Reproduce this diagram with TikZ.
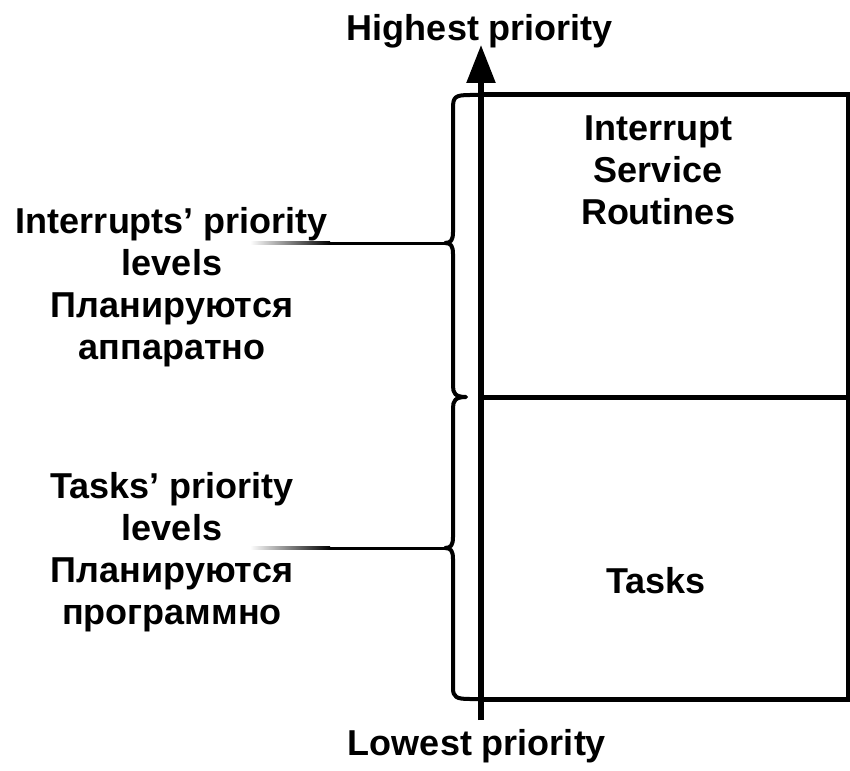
\documentclass[tikz,border=0pt]{standalone}
\usepackage{fontspec}
\setmainfont{Liberation Sans}
\usetikzlibrary{arrows.meta}
\begin{document}
\begin{tikzpicture}[x=1pt,y=-1pt,
  lbl/.style={font=\fontsize{36}{42}\selectfont\bfseries, align=center, inner sep=0pt},
  boxline/.style={line width=5pt},
  bracel/.style={line width=4pt, line join=round},
  axis/.style={line width=5.5pt, -{Triangle[length=38pt,width=28pt]}}]
\useasboundingbox (0,0) rectangle (850,770);
% box
\coordinate (tl) at (481,95);
\coordinate (tr) at (848,95);
\coordinate (ml) at (481,397);
\coordinate (mr) at (848,397);
\coordinate (bl) at (481,699);
\coordinate (br) at (848,699);
\draw[boxline] (tl) -- (tr) -- (br) -- (bl);
\draw[boxline] (ml) -- (mr);
% braces
\draw[bracel] (tl) -- (470,95) .. controls (455,95) and (453,97) .. (453,108) -- (453,232)
  .. controls (453,240) and (451,243) .. (445,243)
  .. controls (451,243) and (453,246) .. (453,254) -- (453,386)
  .. controls (453,393) and (455,397) .. (466,397)
  .. controls (455,397) and (453,401) .. (453,408) -- (453,537)
  .. controls (453,545) and (451,548) .. (445,548)
  .. controls (451,548) and (453,551) .. (453,559) -- (453,688)
  .. controls (453,697) and (456,699) .. (470,699) -- (bl);
% tapered leader lines
\shade[left color=white, right color=black] (250,241.5) rectangle (330,244.5);
\fill (330,241.5) rectangle (447,244.5);
\shade[left color=white, right color=black] (250,546.5) rectangle (330,549.5);
\fill (330,546.5) rectangle (447,549.5);
% axis
\coordinate (ab) at (481,720);
\coordinate (at) at (481,45);
\draw[axis] (ab) -- (at);
% labels
\node[lbl] (hi) at (480,31) {Highest priority};
\node[lbl] (lo) at (477,746) {Lowest priority};
\node[lbl] (isr) at (658,170) {Interrupt\\Service\\Routines};
\node[lbl] (tasks) at (656,581) {Tasks};
\node[lbl] (il) at (172,287) {Interrupts’ priority\\levels\\Планируются\\аппаратно};
\node[lbl] (tl2) at (172,552) {Tasks’ priority\\levels\\Планируются\\программно};
\end{tikzpicture}
\end{document}
